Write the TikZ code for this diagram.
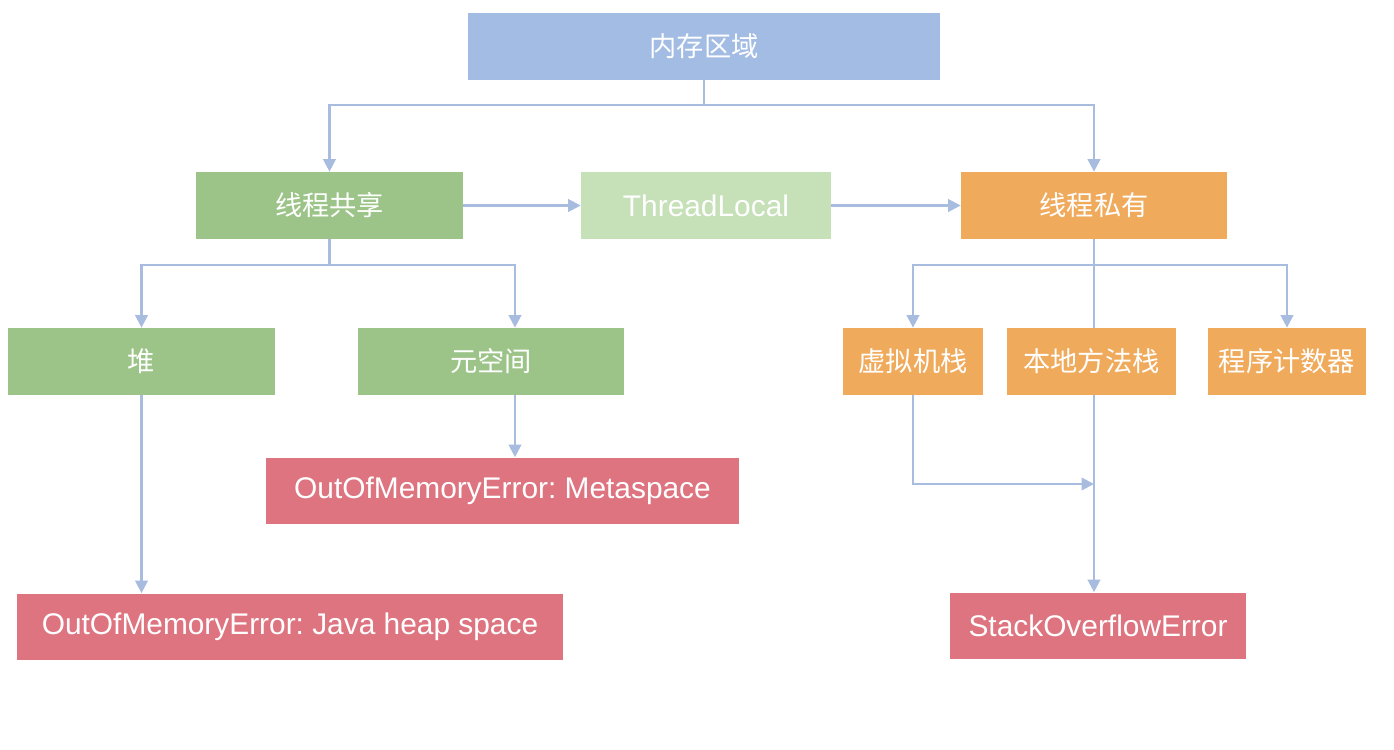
\documentclass[tikz,border=0pt]{standalone}
\usepackage{fontspec}
\setmainfont{Liberation Sans}
\newfontfamily\cjk{Noto Sans CJK SC}
\usetikzlibrary{arrows.meta, backgrounds}
\frenchspacing
\definecolor{memBlue}{RGB}{163,188,228}
\definecolor{memGreen}{RGB}{156,196,136}
\definecolor{memPale}{RGB}{198,224,184}
\definecolor{memOrange}{RGB}{240,170,92}
\definecolor{memRed}{RGB}{222,116,128}
\definecolor{memLine}{RGB}{168,188,224}
\tikzset{
  arrowL/.style={-{Triangle[length=2.5mm, width=2.5mm]}, memLine, line width=1.3pt},
  lineL/.style={memLine, line width=1.3pt},
  boxBase/.style={rectangle, inner sep=0pt, minimum height=1.34cm, text=white,
                  font=\fontsize{17}{20}\selectfont},
  boxBlue/.style={boxBase, fill=memBlue},
  boxGreen/.style={boxBase, fill=memGreen},
  boxPale/.style={boxBase, fill=memPale},
  boxOrange/.style={boxBase, fill=memOrange},
  boxRed/.style={boxBase, fill=memRed},
  zh/.style={font=\cjk\fontsize{15.5}{18}\selectfont},
}
\begin{document}
\begin{tikzpicture}[x=0.02cm, y=-0.02cm]
    \useasboundingbox (0,0) rectangle (1394,750);
    \node[boxBlue, zh, minimum width=9.44cm]    (mem)    at (704,46.5)    {内存区域};
    \node[boxGreen, zh, minimum width=5.34cm]   (share)  at (329.5,205.5) {线程共享};
    \node[boxPale, minimum width=5.0cm]         (tl)     at (706,205.5)   {ThreadLocal};
    \node[boxOrange, zh, minimum width=5.32cm]  (priv)   at (1094,205.5)  {线程私有};
    \node[boxGreen, zh, minimum width=5.34cm]   (heap)   at (141.5,361.5) {堆};
    \node[boxGreen, zh, minimum width=5.32cm]   (meta)   at (491,361.5)   {元空间};
    \node[boxOrange, zh, minimum width=2.8cm]   (vm)     at (913,361.5)   {虚拟机栈};
    \node[boxOrange, zh, minimum width=3.38cm]  (native) at (1091.5,361.5) {本地方法栈};
    \node[boxOrange, zh, minimum width=3.16cm]  (pc)     at (1287,361.5)  {程序计数器};
    \node[boxRed, minimum width=9.46cm]     (metaoom) at (502.5,491)  {OutOfMemoryError: Metaspace};
    \node[boxRed, minimum width=10.92cm]    (heapoom) at (290,627)    {OutOfMemoryError: Java heap space};
    \node[boxRed, minimum width=5.92cm]     (so)     at (1098,626)    {StackOverflowError};
    \coordinate (topbus) at (704,105);
    \coordinate (sharebus) at (329.5,265);
    \coordinate (privbus) at (1094,265);
    \coordinate (vmjoin) at (1094,484);
    \begin{scope}[on background layer]
      \draw[lineL] (mem) -- (topbus);
      \draw[arrowL] (topbus) -| (share);
      \draw[arrowL] (topbus) -| (priv);
      \draw[arrowL] (share) -- (tl);
      \draw[arrowL] (tl) -- (priv);
      \draw[lineL] (share) -- (sharebus);
      \draw[arrowL] (sharebus) -| (heap);
      \draw[arrowL] (sharebus) -| ([xshift=0.48cm]meta.north);
      \draw[arrowL] (heap.south) -- (heap.south |- heapoom.north);
      \draw[arrowL] ([xshift=0.48cm]meta.south) -- ([xshift=0.48cm]meta.south |- metaoom.north);
      \draw[lineL] (priv) -- (privbus);
      \draw[arrowL] (privbus) -| (vm);
      \draw[arrowL] (privbus) -| (pc);
      \draw[arrowL] (priv.south) -- (priv.south |- so.north);
      \draw[arrowL] (vm.south) |- (vmjoin);
    \end{scope}
  \end{tikzpicture}
\end{document}
